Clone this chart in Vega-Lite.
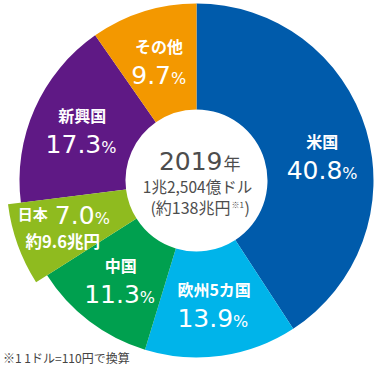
{
  "$schema": "https://vega.github.io/schema/vega-lite/v6.json",
  "width": 380,
  "height": 370,
  "autosize": {"type": "fit", "contains": "padding"},
  "padding": {"left": 8, "top": 0, "right": 0, "bottom": 5},
  "background": "white",
  "title": {"text": "※1 1ドル=110円で換算", "orient": "bottom", "anchor": "start", "dx": -5, "offset": -7, "fontSize": 12, "fontWeight": "normal", "color": "#444444", "font": "Noto Sans CJK JP"},
  "config": {"view": {"stroke": null}, "font": "Noto Sans CJK JP"},
  "data": {"values": [
    {"name": "米国", "value": 40.8, "idx": 1},
    {"name": "欧州5カ国", "value": 13.9, "idx": 2},
    {"name": "中国", "value": 11.3, "idx": 3},
    {"name": "日本", "value": 7.0, "idx": 4},
    {"name": "新興国", "value": 17.3, "idx": 5},
    {"name": "その他", "value": 9.7, "idx": 6}
  ]},
  "transform": [
    {"stack": "value", "groupby": [], "sort": [{"field": "idx", "order": "ascending"}], "as": ["v0", "v1"]},
    {"calculate": "(datum.v0 + datum.v1) / 2", "as": "mid"}
  ],
  "layer": [
    {
      "transform": [{"filter": "datum.name != '日本'"}],
      "mark": {"type": "arc", "innerRadius": 71, "outerRadius": 177},
      "encoding": {
        "theta": {"field": "v0", "type": "quantitative", "scale": {"domain": [0, 100]}},
        "theta2": {"field": "v1"},
        "color": {"field": "name", "type": "nominal", "legend": null,
          "scale": {"domain": ["米国", "欧州5カ国", "中国", "日本", "新興国", "その他"],
                    "range": ["#005bab", "#00b4ea", "#00a04f", "#8fbb1f", "#5f1985", "#f39800"]}}
      }
    },
    {
      "transform": [{"filter": "datum.name == '日本'"}],
      "mark": {"type": "arc", "innerRadius": 71, "outerRadius": 190},
      "encoding": {
        "theta": {"field": "v0", "type": "quantitative"},
        "theta2": {"field": "v1"},
        "color": {"field": "name", "type": "nominal", "legend": null}
      }
    },
    {
      "transform": [{"filter": "datum.name != '日本' && datum.name != '米国'"}],
      "mark": {"type": "text", "radius": 125, "dy": -8, "baseline": "alphabetic", "align": "center", "fontSize": 16, "fontWeight": "bold", "fill": "white"},
      "encoding": {"theta": {"field": "mid", "type": "quantitative"}, "text": {"field": "name"}}
    },
    {
      "transform": [{"filter": "datum.value >= 10 && datum.name != '米国'"}],
      "mark": {"type": "text", "radius": 125, "dy": 23, "dx": 19, "baseline": "alphabetic", "align": "right", "fontSize": 25, "font": "DejaVu Sans", "fill": "white"},
      "encoding": {"theta": {"field": "mid", "type": "quantitative"}, "text": {"field": "value", "type": "quantitative", "format": ".1f"}}
    },
    {
      "transform": [{"filter": "datum.value >= 10 && datum.name != '米国'"}],
      "mark": {"type": "text", "radius": 125, "dy": 23, "dx": 19, "baseline": "alphabetic", "align": "left", "fontSize": 16, "font": "DejaVu Sans", "fill": "white"},
      "encoding": {"theta": {"field": "mid", "type": "quantitative"}, "text": {"value": "%"}}
    },
    {
      "transform": [{"filter": "datum.name == 'その他'"}],
      "mark": {"type": "text", "radius": 125, "dy": 23, "dx": 12, "baseline": "alphabetic", "align": "right", "fontSize": 25, "font": "DejaVu Sans", "fill": "white"},
      "encoding": {"theta": {"field": "mid", "type": "quantitative"}, "text": {"field": "value", "type": "quantitative", "format": ".1f"}}
    },
    {
      "transform": [{"filter": "datum.name == 'その他'"}],
      "mark": {"type": "text", "radius": 125, "dy": 23, "dx": 12, "baseline": "alphabetic", "align": "left", "fontSize": 16, "font": "DejaVu Sans", "fill": "white"},
      "encoding": {"theta": {"field": "mid", "type": "quantitative"}, "text": {"value": "%"}}
    },
    {
      "transform": [{"filter": "datum.name == '米国'"}],
      "mark": {"type": "text", "radius": 125, "dy": 3, "dx": 6, "baseline": "alphabetic", "align": "center", "fontSize": 16, "fontWeight": "bold", "fill": "white"},
      "encoding": {"theta": {"field": "mid", "type": "quantitative"}, "text": {"field": "name"}}
    },
    {
      "transform": [{"filter": "datum.name == '米国'"}],
      "mark": {"type": "text", "radius": 125, "dy": 34, "dx": 26, "baseline": "alphabetic", "align": "right", "fontSize": 25, "font": "DejaVu Sans", "fill": "white"},
      "encoding": {"theta": {"field": "mid", "type": "quantitative"}, "text": {"field": "value", "type": "quantitative", "format": ".1f"}}
    },
    {
      "transform": [{"filter": "datum.name == '米国'"}],
      "mark": {"type": "text", "radius": 125, "dy": 34, "dx": 26, "baseline": "alphabetic", "align": "left", "fontSize": 16, "font": "DejaVu Sans", "fill": "white"},
      "encoding": {"theta": {"field": "mid", "type": "quantitative"}, "text": {"value": "%"}}
    },
    {
      "transform": [{"filter": "datum.name == '日本'"}],
      "mark": {"type": "text", "radius": 140, "dy": -8, "dx": -17, "baseline": "alphabetic", "align": "right", "fontSize": 15, "fontWeight": "bold", "fill": "white"},
      "encoding": {"theta": {"field": "mid", "type": "quantitative"}, "text": {"field": "name"}}
    },
    {
      "transform": [{"filter": "datum.name == '日本'"}],
      "mark": {"type": "text", "radius": 140, "dy": -4, "dx": -10, "baseline": "alphabetic", "align": "left", "fontSize": 25, "font": "DejaVu Sans", "fill": "white"},
      "encoding": {"theta": {"field": "mid", "type": "quantitative"}, "text": {"field": "value", "type": "quantitative", "format": ".1f"}}
    },
    {
      "transform": [{"filter": "datum.name == '日本'"}],
      "mark": {"type": "text", "radius": 140, "dy": -4, "dx": 30, "baseline": "alphabetic", "align": "left", "fontSize": 16, "font": "DejaVu Sans", "fill": "white"},
      "encoding": {"theta": {"field": "mid", "type": "quantitative"}, "text": {"value": "%"}}
    },
    {
      "transform": [{"filter": "datum.name == '日本'"}],
      "mark": {"type": "text", "radius": 140, "dy": 20, "dx": -2, "baseline": "alphabetic", "align": "center", "fontSize": 16.5, "fontWeight": "bold", "fill": "white"},
      "encoding": {"theta": {"field": "mid", "type": "quantitative"}, "text": {"value": "約9.6兆円"}}
    },
    {
      "data": {"values": [{"t": "2019"}]},
      "mark": {"type": "text", "dx": 26, "dy": -11, "baseline": "alphabetic", "align": "right", "fontSize": 25, "font": "DejaVu Sans", "fill": "#4d4d4d"},
      "encoding": {"text": {"field": "t"}}
    },
    {
      "data": {"values": [{"t": "年"}]},
      "mark": {"type": "text", "dx": 27, "dy": -11, "baseline": "alphabetic", "align": "left", "fontSize": 17, "fill": "#4d4d4d"},
      "encoding": {"text": {"field": "t"}}
    },
    {
      "data": {"values": [{"t": "1兆2,504億ドル"}]},
      "mark": {"type": "text", "dx": 1, "dy": 12, "baseline": "alphabetic", "align": "center", "fontSize": 15.5, "fill": "#4d4d4d"},
      "encoding": {"text": {"field": "t"}}
    },
    {
      "data": {"values": [{"t": "(約138兆円"}]},
      "mark": {"type": "text", "dx": 34, "dy": 33, "baseline": "alphabetic", "align": "right", "fontSize": 16, "fill": "#4d4d4d"},
      "encoding": {"text": {"field": "t"}}
    },
    {
      "data": {"values": [{"t": "※1"}]},
      "mark": {"type": "text", "dx": 35, "dy": 27, "baseline": "alphabetic", "align": "left", "fontSize": 8, "fill": "#4d4d4d"},
      "encoding": {"text": {"field": "t"}}
    },
    {
      "data": {"values": [{"t": ")"}]},
      "mark": {"type": "text", "dx": 48, "dy": 33, "baseline": "alphabetic", "align": "left", "fontSize": 16, "fill": "#4d4d4d"},
      "encoding": {"text": {"field": "t"}}
    }
  ]
}
